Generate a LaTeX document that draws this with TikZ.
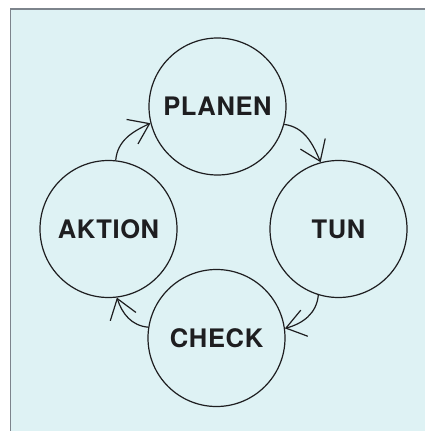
\documentclass[tikz,border=0pt]{standalone}
\usepackage{fontspec}
\setmainfont{TeX Gyre Heros}
\newfontfamily\phasefont[LetterSpace=2.5]{TeX Gyre Heros}
\usetikzlibrary{arrows.meta}
\definecolor{bgcyan}{RGB}{222,242,244}
\definecolor{framegray}{RGB}{125,132,140}
\definecolor{ink}{RGB}{30,30,32}
\tikzset{
  phase/.style={circle, draw=ink, line width=1.2pt, minimum size=137pt, inner sep=0pt,
    font=\phasefont\fontsize{25.5pt}{26pt}\selectfont\bfseries, text=ink},
  cyc/.style={draw=ink, line width=1.2pt, -{Straight Barb[length=19pt,width=27pt]}}
}
\begin{document}
\begin{tikzpicture}[x=1pt,y=-1pt]
\useasboundingbox (0,0) rectangle (425,431);
\fill[white] (0,0) rectangle (425,431);
\draw[fill=bgcyan, draw=framegray, line width=1.2pt] (10.5,9) rectangle (428,434);
\node[phase] (planen) at (217.5,106.5) {PLANEN};
\node[phase] (tun) at (338.5,229) {TUN};
\node[phase] (check) at (216.5,338) {CHECK};
\node[phase] (aktion) at (108.5,229) {AKTION};
\draw[cyc] (aktion.84) to[out=85,in=205] (planen.194);
\draw[cyc] (planen.345) to[out=-8,in=113] (tun.105);
\draw[cyc] (tun.253) to[out=265,in=15] (check.8);
\draw[cyc] (check.171) to[out=175,in=288] (aktion.277);
\end{tikzpicture}
\end{document}
